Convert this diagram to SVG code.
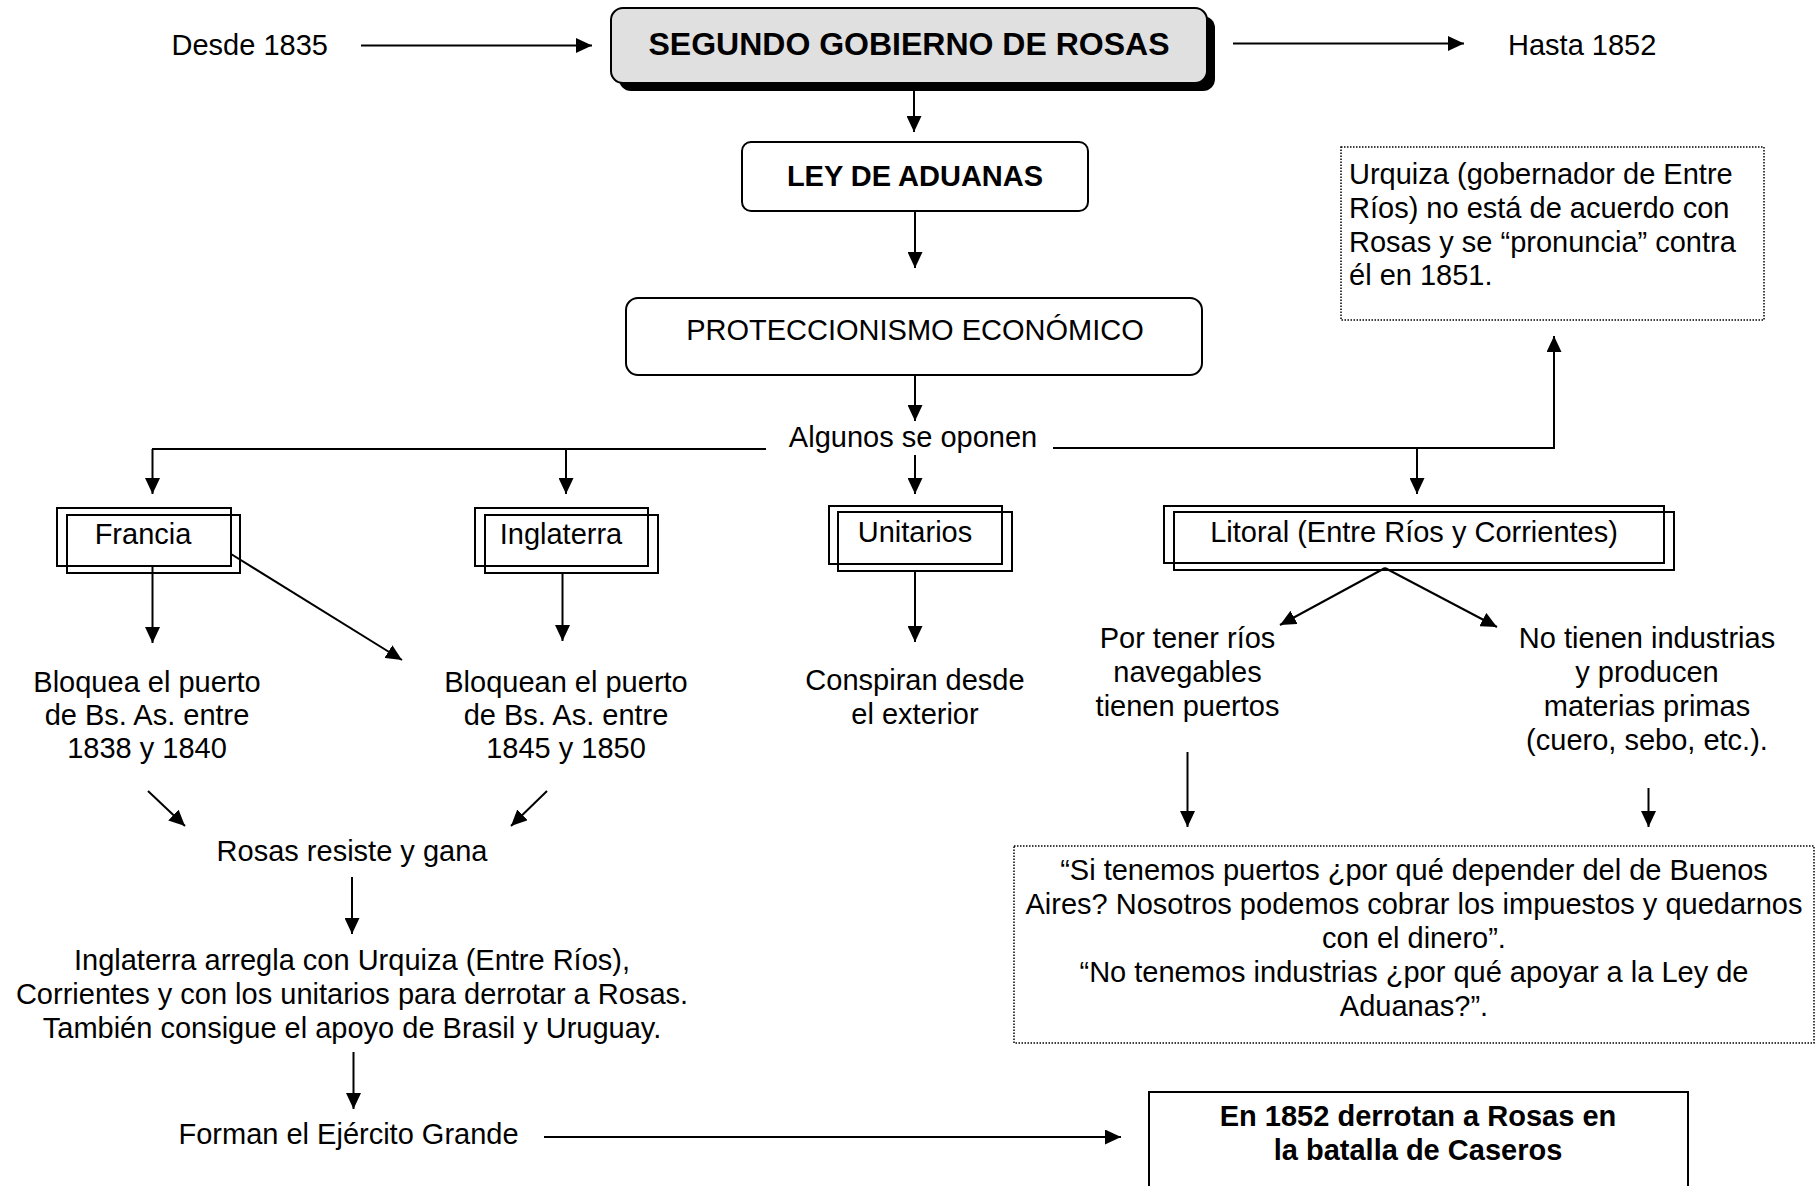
<svg xmlns="http://www.w3.org/2000/svg" width="1816" height="1186" viewBox="0 0 1816 1186">
<style>
text{font-family:"Liberation Sans",Arial,sans-serif;font-size:29px;fill:#000}
.c{text-anchor:middle}
.b{font-weight:bold}
.ln{stroke:#000;stroke-width:2;fill:none}
.ar{stroke:#000;stroke-width:2;fill:none;marker-end:url(#ah)}
.bx{fill:#fff;stroke:#000;stroke-width:2}
.dot{fill:#fff;stroke:#000;stroke-width:1.5;stroke-dasharray:1.5 1.5}
</style>
<defs>
<marker id="ah" markerUnits="userSpaceOnUse" markerWidth="17" markerHeight="15" refX="16" refY="7.5" orient="auto">
<path d="M0,0 L16,7.5 L0,15 z" fill="#000"/>
</marker>
</defs>
<rect width="1816" height="1186" fill="#fff"/>

<g id="connectors">
<line class="ar" x1="361" y1="45.5" x2="592" y2="45.5"/>
<line class="ar" x1="1233" y1="43.5" x2="1464" y2="43.5"/>
<line class="ar" x1="914" y1="91" x2="914" y2="132"/>
<line class="ar" x1="915" y1="211" x2="915" y2="268"/>
<line class="ar" x1="915" y1="375" x2="915" y2="421"/>
<polyline class="ln" points="766,449 152,449"/>
<polyline class="ln" points="1053,448 1554,448 1554,440"/>
<line class="ar" x1="1554" y1="449" x2="1554" y2="336"/>
<line class="ar" x1="152.5" y1="449" x2="152.5" y2="494"/>
<line class="ar" x1="566" y1="449" x2="566" y2="494"/>
<line class="ar" x1="915" y1="455" x2="915" y2="494"/>
<line class="ar" x1="1417" y1="448" x2="1417" y2="494"/>
<line class="ar" x1="152.5" y1="566" x2="152.5" y2="643"/>
<line class="ar" x1="231" y1="554" x2="402" y2="660"/>
<line class="ar" x1="562.5" y1="573" x2="562.5" y2="641"/>
<line class="ar" x1="915" y1="571" x2="915" y2="642"/>
<line class="ar" x1="1385" y1="568" x2="1280" y2="625"/>
<line class="ar" x1="1385" y1="568" x2="1497" y2="627"/>
<line class="ar" x1="1187.5" y1="752" x2="1187.5" y2="827"/>
<line class="ar" x1="1648.5" y1="788" x2="1648.5" y2="827"/>
<line class="ar" x1="148" y1="791" x2="185" y2="826"/>
<line class="ar" x1="547" y1="791" x2="511" y2="826"/>
<line class="ar" x1="352" y1="877" x2="352" y2="934"/>
<line class="ar" x1="353.5" y1="1052" x2="353.5" y2="1109"/>
<line class="ar" x1="544" y1="1137" x2="1121" y2="1137"/>
</g>

<g id="desde"><text x="171.5" y="55">Desde 1835</text></g>
<g id="hasta"><text x="1508" y="55">Hasta 1852</text></g>

<g id="segundo-gobierno">
<rect x="619" y="16" width="596" height="75" rx="12" fill="#000"/>
<rect x="611" y="8" width="596" height="75" rx="12" fill="#e0e0e0" stroke="#000" stroke-width="2"/>
<text class="c b" x="909" y="55" style="font-size:32px">SEGUNDO GOBIERNO DE ROSAS</text>
</g>

<g id="ley-aduanas">
<rect class="bx" x="742" y="142" width="346" height="69" rx="9"/>
<text class="c b" x="915" y="186">LEY DE ADUANAS</text>
</g>

<g id="proteccionismo">
<rect class="bx" x="626" y="298" width="576" height="77" rx="12"/>
<text class="c" x="915" y="340">PROTECCIONISMO ECONÓMICO</text>
</g>

<g id="algunos"><text class="c" x="913" y="447">Algunos se oponen</text></g>

<g id="urquiza">
<rect class="dot" x="1341" y="147" width="423" height="173"/>
<text x="1349" y="184">Urquiza (gobernador de Entre</text>
<text x="1349" y="218">Ríos) no está de acuerdo con</text>
<text x="1349" y="252">Rosas y se “pronuncia” contra</text>
<text x="1349" y="285">él en 1851.</text>
</g>

<g id="francia">
<rect class="bx" x="57" y="508" width="174" height="58" fill="none"/>
<rect x="67" y="515" width="173" height="58" fill="none" stroke="#000" stroke-width="2"/>
<text class="c" x="143" y="544">Francia</text>
</g>

<g id="inglaterra">
<rect class="bx" x="475" y="508" width="173" height="58" fill="none"/>
<rect x="485" y="515" width="173" height="58" fill="none" stroke="#000" stroke-width="2"/>
<text class="c" x="561" y="544">Inglaterra</text>
</g>

<g id="unitarios">
<rect class="bx" x="829" y="506" width="173" height="58"/>
<rect x="838" y="512" width="174" height="59" fill="none" stroke="#000" stroke-width="2"/>
<text class="c" x="915" y="542">Unitarios</text>
</g>

<g id="litoral">
<rect class="bx" x="1164" y="506" width="500" height="57"/>
<rect x="1174" y="512" width="500" height="58" fill="none" stroke="#000" stroke-width="2"/>
<text class="c" x="1414" y="542">Litoral (Entre Ríos y Corrientes)</text>
</g>

<g id="bloquea-francia">
<text class="c" x="147" y="692">Bloquea el puerto</text>
<text class="c" x="147" y="725">de Bs. As. entre</text>
<text class="c" x="147" y="758">1838 y 1840</text>
</g>

<g id="bloquean-inglaterra">
<text class="c" x="566" y="692">Bloquean el puerto</text>
<text class="c" x="566" y="725">de Bs. As. entre</text>
<text class="c" x="566" y="758">1845 y 1850</text>
</g>

<g id="conspiran">
<text class="c" x="915" y="690">Conspiran desde</text>
<text class="c" x="915" y="724">el exterior</text>
</g>

<g id="por-tener">
<text class="c" x="1187.5" y="648">Por tener ríos</text>
<text class="c" x="1187.5" y="682">navegables</text>
<text class="c" x="1187.5" y="716">tienen puertos</text>
</g>

<g id="no-tienen">
<text class="c" x="1647" y="648">No tienen industrias</text>
<text class="c" x="1647" y="682">y producen</text>
<text class="c" x="1647" y="716">materias primas</text>
<text class="c" x="1647" y="750">(cuero, sebo, etc.).</text>
</g>

<g id="rosas-resiste"><text class="c" x="352" y="861">Rosas resiste y gana</text></g>

<g id="inglaterra-arregla">
<text class="c" x="352" y="970">Inglaterra arregla con Urquiza (Entre Ríos),</text>
<text class="c" x="352" y="1004">Corrientes y con los unitarios para derrotar a Rosas.</text>
<text class="c" x="352" y="1038">También consigue el apoyo de Brasil y Uruguay.</text>
</g>

<g id="forman"><text x="178.5" y="1144">Forman el Ejército Grande</text></g>

<g id="citas">
<rect class="dot" x="1014" y="846" width="800" height="197"/>
<text class="c" x="1414" y="880">“Si tenemos puertos ¿por qué depender del de Buenos</text>
<text class="c" x="1414" y="914">Aires? Nosotros podemos cobrar los impuestos y quedarnos</text>
<text class="c" x="1414" y="948">con el dinero”.</text>
<text class="c" x="1414" y="982">“No tenemos industrias ¿por qué apoyar a la Ley de</text>
<text class="c" x="1414" y="1016">Aduanas?”.</text>
</g>

<g id="caseros">
<rect class="bx" x="1149" y="1092" width="539" height="110"/>
<text class="c b" x="1418" y="1126">En 1852 derrotan a Rosas en</text>
<text class="c b" x="1418" y="1160">la batalla de Caseros</text>
</g>
</svg>
